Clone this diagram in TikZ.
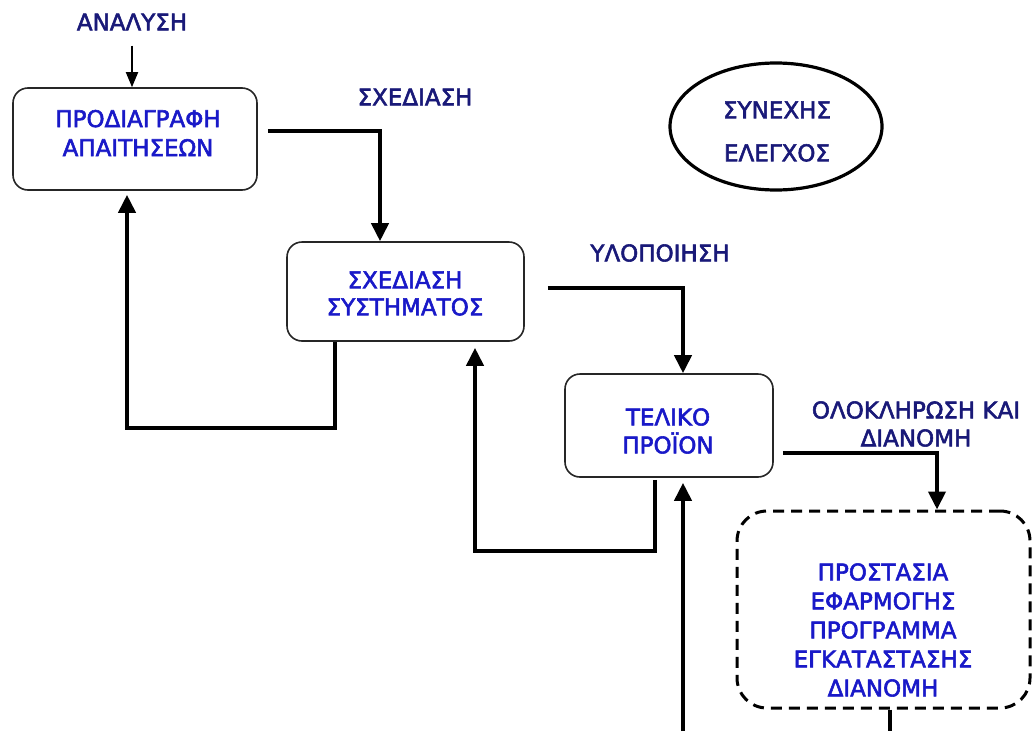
\documentclass[tikz,border=0pt]{standalone}
\usepackage{fontspec}
\setmainfont{DejaVu Sans}
\newfontfamily\medfont[FakeBold=2.4]{DejaVu Sans}
\usetikzlibrary{arrows.meta,shapes.geometric,calc}
\definecolor{navy}{RGB}{25,25,120}
\definecolor{boxblue}{RGB}{25,25,200}
\begin{document}
\begin{tikzpicture}[x=1pt,y=-1pt,
  proc/.style={draw=black!85, line width=1.6pt, rounded corners=15pt, fill=white, inner sep=0pt},
  dashproc/.style={draw=black, line width=3pt, dash pattern=on 11pt off 7pt, rounded corners=30pt, inner sep=0pt},
  oval/.style={draw=black, line width=3.2pt, ellipse, inner sep=0pt},
  boxtext/.style={text=boxblue, font=\medfont\fontsize{23}{29}\selectfont, align=center, inner sep=0pt},
  lbl/.style={text=navy, font=\medfont\fontsize{23}{28}\selectfont, align=center, inner sep=0pt},
  flow/.style={line width=4pt, -{Triangle[length=18pt,width=17pt]}},
  thinflow/.style={line width=1.8pt, -{Triangle[length=15pt,width=12pt]}},
  plainline/.style={line width=4pt}]
\useasboundingbox (0,0) rectangle (1032,731);

% boxes
\node[proc, minimum width=244pt, minimum height=102pt] (b1) at (135,139) {};
\node[proc, minimum width=237pt, minimum height=99pt] (b2) at (405.5,291.5) {};
\node[proc, minimum width=208pt, minimum height=103pt] (b3) at (669,425.5) {};
\node[dashproc, minimum width=293pt, minimum height=197pt] (b5) at (883.5,609.5) {};
\node[oval, minimum width=212pt, minimum height=127pt] (ell) at (776,126.5) {};

% box texts
\node[boxtext] (t1) at (138,133) {ΠΡΟΔΙΑΓΡΑΦΗ\\ΑΠΑΙΤΗΣΕΩΝ};
\node[boxtext, font=\medfont\fontsize{23}{27}\selectfont] (t2) at (405,293.5) {ΣΧΕΔΙΑΣΗ\\ΣΥΣΤΗΜΑΤΟΣ};
\node[boxtext, font=\medfont\fontsize{23}{28}\selectfont] (t3) at (668,431) {ΤΕΛΙΚΟ\\ΠΡΟΪΟΝ};
\node[boxtext] (t5) at (883,630) {ΠΡΟΣΤΑΣΙΑ\\ΕΦΑΡΜΟΓΗΣ\\ΠΡΟΓΡΑΜΜΑ\\ΕΓΚΑΤΑΣΤΑΣΗΣ\\ΔΙΑΝΟΜΗ};
\node[lbl, font=\medfont\fontsize{23}{43}\selectfont] (tell) at (777,131.5) {ΣΥΝΕΧΗΣ\\ΕΛΕΓΧΟΣ};

% labels
\node[lbl] (lA) at (132,22) {ΑΝΑΛΥΣΗ};
\node[lbl] (lS) at (415,97) {ΣΧΕΔΙΑΣΗ};
\node[lbl] (lY) at (660,253) {ΥΛΟΠΟΙΗΣΗ};
\node[lbl] (lO) at (916,424) {ΟΛΟΚΛΗΡΩΣΗ ΚΑΙ\\ΔΙΑΝΟΜΗ};

% free ends
\coordinate (bot1) at (683,731);
\coordinate (bot2) at (890,731);

% forward connectors
\draw[thinflow] ($(lA.south)+(0,15)$) -- (lA.south |- b1.north);
\draw[flow] ($(b1.east)+(10,-8)$) -| ($(b2.north)+(-25.5,0)$);
\draw[flow] ($(b2.east)+(23,-3.5)$) -| ($(b3.north)+(14,0)$);
\draw[flow] ($(b3.east)+(9,27.5)$) -| ($(b5.north)+(53.5,0)$);

% feedback connectors
\draw[flow, shorten >=4pt] ($(b2.south)+(-70.5,0)$) -- ++(0,86) -| ($(b1.south)+(-8,0)$);
\draw[flow, shorten >=6pt] ($(b3.south)+(-14,2)$) -- ++(0,71) -| ($(b2.south)+(69.5,0)$);
\draw[flow, shorten >=5pt] (bot1) -- (bot1 |- b3.south);
\draw[plainline] ($(b5.south)+(6.5,0)$) -- (bot2);
\end{tikzpicture}
\end{document}
